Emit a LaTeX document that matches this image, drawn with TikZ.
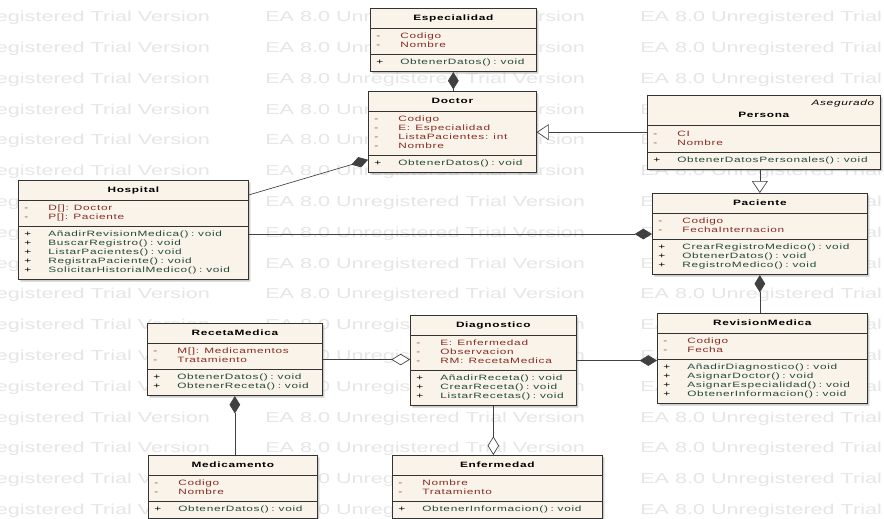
\documentclass[tikz,border=0pt]{standalone}
\usepackage{fontspec}
\setmainfont{Liberation Sans}
\newfontfamily\umlfont[FakeStretch=1.53,LetterSpace=9]{Liberation Sans}
\newfontfamily\wmfont[FakeStretch=1.5]{Liberation Sans}
\usetikzlibrary{shapes.multipart, arrows.meta, shadows}

\definecolor{umlfill}{RGB}{249,243,233}
\definecolor{attrcol}{RGB}{135,45,35}
\definecolor{methcol}{RGB}{35,75,60}
\definecolor{wmgray}{RGB}{230,230,230}

% 类名、属性、方法的行
\newcommand{\ctitle}[1]{\makebox[\hsize]{\rule[-3pt]{0pt}{9pt}\bfseries #1}}
\newcommand{\atr}[1]{\leavevmode\strut\textcolor{attrcol}{\makebox[18pt][l]{-}#1}\par}
\newcommand{\mth}[1]{\leavevmode\strut\makebox[18pt][l]{+}\textcolor{methcol}{#1}\par}

\begin{document}
\begin{tikzpicture}[x=0.75pt, y=-0.75pt,
    uml/.style={rectangle split, rectangle split parts=3, draw=black!80, line width=0.5pt,
        fill=umlfill, text width=#1, inner xsep=4.5pt, inner ysep=2.8pt, align=left,
        anchor=north west, font=\umlfont\fontsize{5.8}{6.75}\selectfont,
        drop shadow={shadow xshift=1.5pt, shadow yshift=-1.5pt, opacity=.4}},
    conn/.style={draw=black!75, line width=0.5pt},
    compo/.tip={Diamond[length=13pt, width=8pt]},
    aggr/.tip={Diamond[length=14pt, width=8.5pt, fill=white]},
    gener/.tip={Triangle[length=9pt, width=12pt, fill=white]},
    watermark/.style={font=\wmfont\fontsize{10.8}{12}\selectfont, text=wmgray, anchor=west, inner sep=0pt}]

    \useasboundingbox (0,0) rectangle (884,518);
    \fill[white] (0,0) rectangle (884,518);

    % 背景水印
    \begin{scope}
        \clip (0,0) rectangle (884,518);
        \foreach \k in {0,...,16}
            \foreach \xs [count=\j] in {-110,265,640}
                \node[watermark] (wm\k-\j) at (\xs, 18+30.8*\k) {EA 8.0 Unregistered Trial Version};
    \end{scope}

    % 1. 上方的类
    \node[uml=115.5pt] (Especialidad) at (370,8) {\ctitle{Especialidad}
        \nodepart{two}\atr{Codigo}\atr{Nombre}
        \nodepart{three}\mth{ObtenerDatos() : void}};

    \node[uml=117pt] (Doctor) at (368,91) {\ctitle{Doctor}
        \nodepart{two}\atr{Codigo}\atr{E:\ \ Especialidad}\atr{ListaPacientes:\ \ int}\atr{Nombre}
        \nodepart{three}\mth{ObtenerDatos() : void}};

    \node[uml=165.75pt] (Persona) at (647,95) {\leavevmode\strut\makebox[\hsize][r]{\itshape Asegurado}\par\ctitle{Persona}
        \nodepart{two}\atr{CI}\atr{Nombre}
        \nodepart{three}\mth{ObtenerDatosPersonales() : void}};

    % 2. 中间的类
    \node[uml=163.5pt] (Hospital) at (18,180) {\ctitle{Hospital}
        \nodepart{two}\atr{D[]:\ \ Doctor}\atr{P[]:\ \ Paciente}
        \nodepart{three}\mth{AñadirRevisionMedica() : void}\mth{BuscarRegistro() : void}%
            \mth{ListarPacientes() : void}\mth{RegistraPaciente() : void}\mth{SolicitarHistorialMedico() : void}};

    \node[uml=152.25pt] (Paciente) at (652,193) {\ctitle{Paciente}
        \nodepart{two}\atr{Codigo}\atr{FechaInternacion}
        \nodepart{three}\mth{CrearRegistroMedico() : void}\mth{ObtenerDatos() : void}\mth{RegistroMedico() : void}};

    % 3. 下方的类
    \node[uml=122.25pt] (RecetaMedica) at (147,323) {\ctitle{RecetaMedica}
        \nodepart{two}\atr{M[]:\ \ Medicamentos}\atr{Tratamiento}
        \nodepart{three}\mth{ObtenerDatos() : void}\mth{ObtenerReceta() : void}};

    \node[uml=115.5pt] (Diagnostico) at (410,315) {\ctitle{Diagnostico}
        \nodepart{two}\atr{E:\ \ Enfermedad}\atr{Observacion}\atr{RM:\ \ RecetaMedica}
        \nodepart{three}\mth{AñadirReceta() : void}\mth{CrearReceta() : void}\mth{ListarRecetas() : void}};

    \node[uml=148.5pt] (RevisionMedica) at (657,313) {\ctitle{RevisionMedica}
        \nodepart{two}\atr{Codigo}\atr{Fecha}
        \nodepart{three}\mth{AñadirDiagnostico() : void}\mth{AsignarDoctor() : void}%
            \mth{AsignarEspecialidad() : void}\mth{ObtenerInformacion() : void}};

    \node[uml=117.75pt] (Medicamento) at (148,455) {\ctitle{Medicamento}
        \nodepart{two}\atr{Codigo}\atr{Nombre}
        \nodepart{three}\mth{ObtenerDatos() : void}};

    \node[uml=148.5pt] (Enfermedad) at (392,455) {\ctitle{Enfermedad}
        \nodepart{two}\atr{Nombre}\atr{Tratamiento}
        \nodepart{three}\mth{ObtenerInformacion() : void}};

    % 4. 关系连线
    \draw[conn, compo-] (Especialidad.south) -- (Especialidad.south |- Doctor.north);
    \draw[conn, -compo] ([yshift=-11.25pt]Hospital.north east) -- ([yshift=10pt]Doctor.south west);
    \draw[conn, -gener] (Persona.west) -- (Persona.west -| Doctor.east);
    \draw[conn, -gener] (Paciente.north |- Persona.south) -- (Paciente.north);
    \draw[conn, -compo] (Paciente.west -| Hospital.east) -- (Paciente.west);
    \draw[conn, compo-] (Paciente.south) -- (Paciente.south |- RevisionMedica.north);
    \draw[conn, -compo] (Diagnostico.east) -- (Diagnostico.east -| RevisionMedica.west);
    \draw[conn, -aggr] (RecetaMedica.east) -- (RecetaMedica.east -| Diagnostico.west);
    \draw[conn, compo-] (RecetaMedica.south) -- (RecetaMedica.south |- Medicamento.north);
    \draw[conn, -aggr] (Diagnostico.south) -- (Diagnostico.south |- Enfermedad.north);

\end{tikzpicture}
\end{document}
